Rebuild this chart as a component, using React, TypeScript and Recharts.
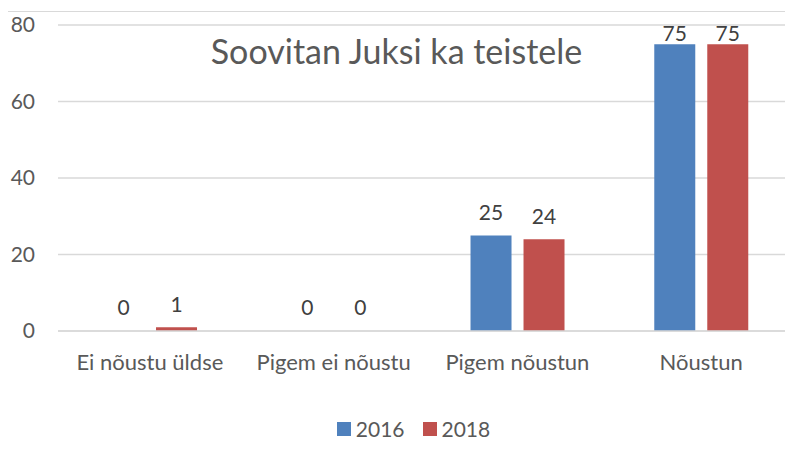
import { Bar, BarChart, CartesianGrid, LabelList, Legend, XAxis, YAxis } from "recharts";

const categories = ["Ei nõustu üldse", "Pigem ei nõustu", "Pigem nõustun", "Nõustun"];
const values2016 = [0, 0, 25, 75];
const values2018 = [1, 0, 24, 75];
const seriesNames = ["2016", "2018"];
const seriesColors = ["#4f81bd", "#c0504d"];
const yTicks = [0, 20, 40, 60, 80];
const chartTitle = "Soovitan Juksi ka teistele";

const fontFamily = "Lato, 'Noto Sans', sans-serif";
const textColor = "#595959";
const gridColor = "#d9d9d9";

const data = categories.map((name, i) => ({ name, s2016: values2016[i], s2018: values2018[i] }));

function ValueLabel(props: any) {
  const { x, y, width, value } = props;
  const cy = Math.max(Number(y) - 24, 32);
  return (
    <text
      x={Number(x) + Number(width) / 2}
      y={cy}
      textAnchor="middle"
      dominantBaseline="central"
      fill="#404040"
      fontSize={21}
      fontFamily={fontFamily}
    >
      {String(value)}
    </text>
  );
}

function LegendContent() {
  return (
    <div
      style={{
        width: 793,
        display: "flex",
        justifyContent: "center",
        alignItems: "center",
        fontFamily,
        fontSize: 21,
        color: textColor,
      }}
    >
      {seriesNames.map((name, i) => (
        <div key={name} style={{ display: "flex", alignItems: "center", marginRight: i === 0 ? 18 : 0 }}>
          <span style={{ width: 14, height: 14, background: seriesColors[i], marginRight: 5, display: "inline-block" }} />
          <span>{name}</span>
        </div>
      ))}
    </div>
  );
}

export default function App(): JSX.Element {
  return (
    <div style={{ position: "relative", width: 793, height: 459, margin: -8, overflow: "hidden", background: "#ffffff" }}>
      <div
        style={{
          position: "absolute",
          left: 7,
          top: 11,
          width: 900,
          height: 600,
          border: `1px solid ${gridColor}`,
        }}
      />
      <BarChart
        width={793}
        height={459}
        data={data}
        margin={{ top: 25, right: 0, left: 0, bottom: 88 }}
        barCategoryGap="24.5%"
        barGap={12}
        style={{ fontFamily }}
      >
        <CartesianGrid vertical={false} stroke={gridColor} strokeWidth={1.3} />
        <XAxis
          dataKey="name"
          height={40}
          tickLine={false}
          tickSize={0}
          tickMargin={23}
          axisLine={{ stroke: gridColor, strokeWidth: 1.3 }}
          tick={{ fill: textColor, fontSize: 22 }}
        />
        <YAxis
          width={58}
          domain={[0, 80]}
          ticks={yTicks}
          axisLine={false}
          tickLine={false}
          tickSize={0}
          tickMargin={23}
          tick={{ fill: textColor, fontSize: 21 }}
        />
        <Legend
          verticalAlign="middle"
          align="center"
          layout="horizontal"
          content={<LegendContent />}
          wrapperStyle={{ top: 416, left: 17, width: 793 }}
        />
        <Bar dataKey="s2016" name={seriesNames[0]} fill={seriesColors[0]} minPointSize={0.01} isAnimationActive={false}>
          <LabelList dataKey="s2016" content={<ValueLabel />} />
        </Bar>
        <Bar dataKey="s2018" name={seriesNames[1]} fill={seriesColors[1]} minPointSize={0.01} isAnimationActive={false}>
          <LabelList dataKey="s2018" content={<ValueLabel />} />
        </Bar>
      </BarChart>
      <div
        style={{
          position: "absolute",
          left: 0,
          top: 29,
          width: 793,
          textAlign: "center",
          fontFamily,
          fontSize: 34,
          color: textColor,
          lineHeight: "44px",
        }}
      >
        {chartTitle}
      </div>
    </div>
  );
}
